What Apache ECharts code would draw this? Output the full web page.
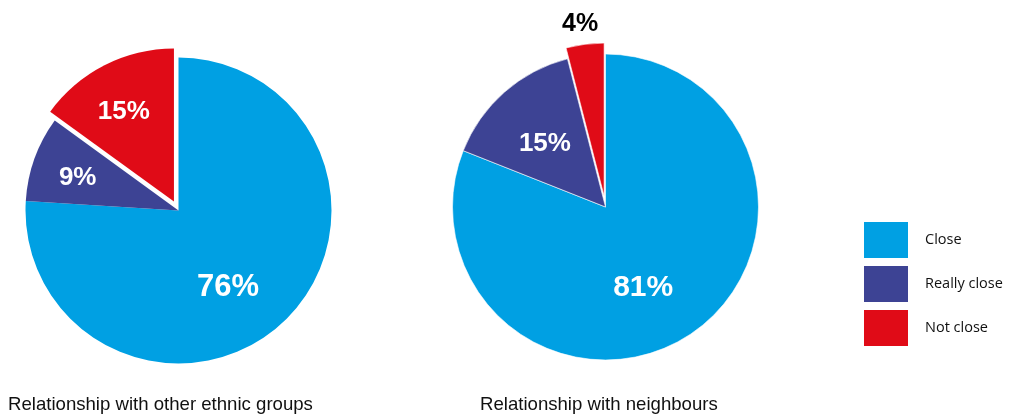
<!DOCTYPE html>
<html>
<head>
<meta charset="utf-8">
<script src="https://cdn.jsdelivr.net/npm/echarts@6/dist/echarts.min.js"></script>
<style>
html,body{margin:0;padding:0;background:#fff;}
#chart{width:1012px;height:415px;}
</style>
</head>
<body>
<div id="chart"></div>
<script>
// ---- Data ----
const categories = ['Close', 'Really close', 'Not close'];
const ethnicValues = [76, 9, 15];
const neighbourValues = [81, 15, 4];
const chartTitles = ['Relationship with other ethnic groups', 'Relationship with neighbours'];

// ---- Style ----
const colors = ['#00A0E3', '#3D4394', '#E00B17'];
const labelFont = 'Liberation Sans, Arial, sans-serif';
// label nudges (pixels) relative to ECharts' default inside label position
const ethnicNudge = [[-5, 19], [-26, -6], [-14, -19]];
const neighbourNudge = [[-7, 15], [-8, -4], [-14, -93]];

function makeData(values, explodeIdx, outsideIdx, labelSizes) {
  return values.map((v, i) => {
    const d = { name: categories[i], value: v, itemStyle: { color: colors[i] }, label: { fontSize: labelSizes[i] } };
    if (i === explodeIdx) d.selected = true;
    if (i === outsideIdx) d.label.color = '#000';
    return d;
  });
}

function pieSeries(values, center, offset, nudge, labelSizes, outsideIdx, border) {
  return {
    type: 'pie',
    center: center,
    radius: 153,
    startAngle: 90,
    clockwise: true,
    selectedMode: 'single',
    selectedOffset: offset,
    silent: true,
    animation: false,
    avoidLabelOverlap: false,
    itemStyle: { borderColor: '#fff', borderWidth: border },
    label: {
      show: true,
      position: 'inside',
      color: '#fff',
      fontFamily: labelFont,
      fontWeight: 'bold',
      fontSize: 26,
      formatter: function (p) { return p.value + '%'; }
    },
    labelLine: { show: false },
    labelLayout: function (p) {
      return { dx: nudge[p.dataIndex][0], dy: nudge[p.dataIndex][1] };
    },
    emphasis: { disabled: true },
    data: makeData(values, 2, outsideIdx, labelSizes)
  };
}

const chart = echarts.init(document.getElementById('chart'), null, { renderer: 'canvas' });
const titleStyle = { fontFamily: labelFont, fontWeight: 'normal', fontSize: 18.6, color: '#111' };
chart.setOption({
  backgroundColor: '#fff',
  animation: false,
  title: [
    { text: chartTitles[0], left: 3, top: 390, textStyle: titleStyle },
    { text: chartTitles[1], left: 475, top: 390, textStyle: titleStyle }
  ],
  legend: {
    orient: 'vertical',
    left: 859,
    top: 217,
    icon: 'rect',
    itemWidth: 44,
    itemHeight: 36,
    itemGap: 8,
    selectedMode: false,
    data: categories,
    textStyle: { fontFamily: 'Open Sans, Noto Sans, sans-serif', fontSize: 14.5, color: '#111', padding: [0, 0, 0, 12] }
  },
  series: [
    pieSeries(ethnicValues, [178.5, 210.5], 10, ethnicNudge, [31, 26, 26], -1, 0),
    pieSeries(neighbourValues, [605.5, 207], 11, neighbourNudge, [30, 26, 25], 2, 0.6)
  ]
});
</script>
</body>
</html>
